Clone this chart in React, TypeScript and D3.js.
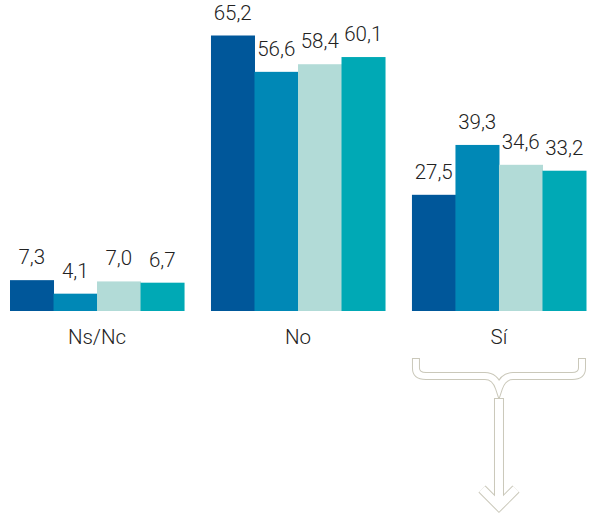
import React, { useEffect, useRef } from 'react';
import * as d3 from 'd3';

const categories = ['Ns/Nc', 'No', 'Sí'];
const seriesKeys = ['s1', 's2', 's3', 's4'];
const nsncValues = [7.3, 4.1, 7.0, 6.7];
const noValues = [65.2, 56.6, 58.4, 60.1];
const siValues = [27.5, 39.3, 34.6, 33.2];
const colors = ['#00579a', '#0088b6', '#b2dbd7', '#00a9b5'];

export default function App() {
  const svgRef = useRef<SVGSVGElement>(null);

  useEffect(() => {
    if (!svgRef.current) return;
    const svg = d3.select(svgRef.current);
    svg.selectAll('*').remove();

    const width = 596;
    const height = 516;
    const baseline = 311;

    const groups = [nsncValues, noValues, siValues].map((vals, i) => ({
      cat: categories[i],
      vals: vals.map((v, j) => ({ key: seriesKeys[j], v })),
    }));

    const x0 = d3.scaleBand().domain(categories).range([10, 586]).paddingInner(0.134).paddingOuter(0);
    const x1 = d3.scaleBand().domain(seriesKeys).range([0, x0.bandwidth()]).padding(0);
    const y = d3.scaleLinear().domain([0, 65.2]).range([baseline, 35.5]);
    const color = d3.scaleOrdinal<string, string>().domain(seriesKeys).range(colors);

    const fmt = (v: number) => d3.format('.1f')(v).replace('.', ',');
    const font = 'Roboto, sans-serif';

    const g = svg.selectAll('.grp')
      .data(groups)
      .enter().append('g')
      .attr('class', 'grp')
      .attr('transform', d => `translate(${x0(d.cat)},0)`);

    g.selectAll('rect')
      .data(d => d.vals)
      .enter().append('rect')
      .attr('x', d => x1(d.key)!)
      .attr('y', d => y(d.v))
      .attr('width', x1.bandwidth() + 0.5)
      .attr('height', d => baseline - y(d.v))
      .attr('fill', d => color(d.key));

    g.selectAll('.val')
      .data(d => d.vals)
      .enter().append('text')
      .attr('class', 'val')
      .attr('x', d => x1(d.key)! + x1.bandwidth() / 2)
      .attr('y', d => y(d.v) - 16)
      .attr('text-anchor', 'middle')
      .attr('font-family', font)
      .attr('font-weight', 300)
      .attr('font-size', '20.5px')
      .attr('fill', '#222')
      .text(d => fmt(d.v));

    // category labels
    svg.selectAll('.cat')
      .data(categories)
      .enter().append('text')
      .attr('class', 'cat')
      .attr('x', d => x0(d)! + x0.bandwidth() / 2)
      .attr('y', 344)
      .attr('text-anchor', 'middle')
      .attr('font-family', font)
      .attr('font-weight', 300)
      .attr('font-size', '20.5px')
      .attr('fill', '#222')
      .text(d => d);

    // brace + arrow under "Sí"
    const bx = x0('Sí')!;
    const bw = x0.bandwidth();
    const mid = bx + bw / 2;
    const l = bx + 4;
    const r = bx + bw - 4;
    const brace = (top: number) =>
      `M${l},${top} V368 Q${l},376 ${l + 10},376 H${mid - 14} Q${mid - 4},376 ${mid},388 Q${mid + 4},376 ${mid + 14},376 H${r - 10} Q${r},376 ${r},368 V${top}`;
    const arrow = (top: number) =>
      `M${mid},${top} V506 M${mid - 17},489 L${mid},506 L${mid + 17},489`;

    const outline = '#cac8ba';
    svg.append('path').attr('d', brace(358)).attr('fill', 'none').attr('stroke', outline).attr('stroke-width', 8);
    svg.append('path').attr('d', arrow(398)).attr('fill', 'none').attr('stroke', outline).attr('stroke-width', 10);
    svg.append('path').attr('d', brace(359)).attr('fill', 'none').attr('stroke', '#fff').attr('stroke-width', 6);
    svg.append('path').attr('d', arrow(399)).attr('fill', 'none').attr('stroke', '#fff').attr('stroke-width', 8);

    svg.attr('width', width).attr('height', height);
  }, []);

  return (
    <svg
      ref={svgRef}
      width={596}
      height={516}
      style={{ position: 'absolute', left: 0, top: 0, background: '#fff' }}
    />
  );
}
